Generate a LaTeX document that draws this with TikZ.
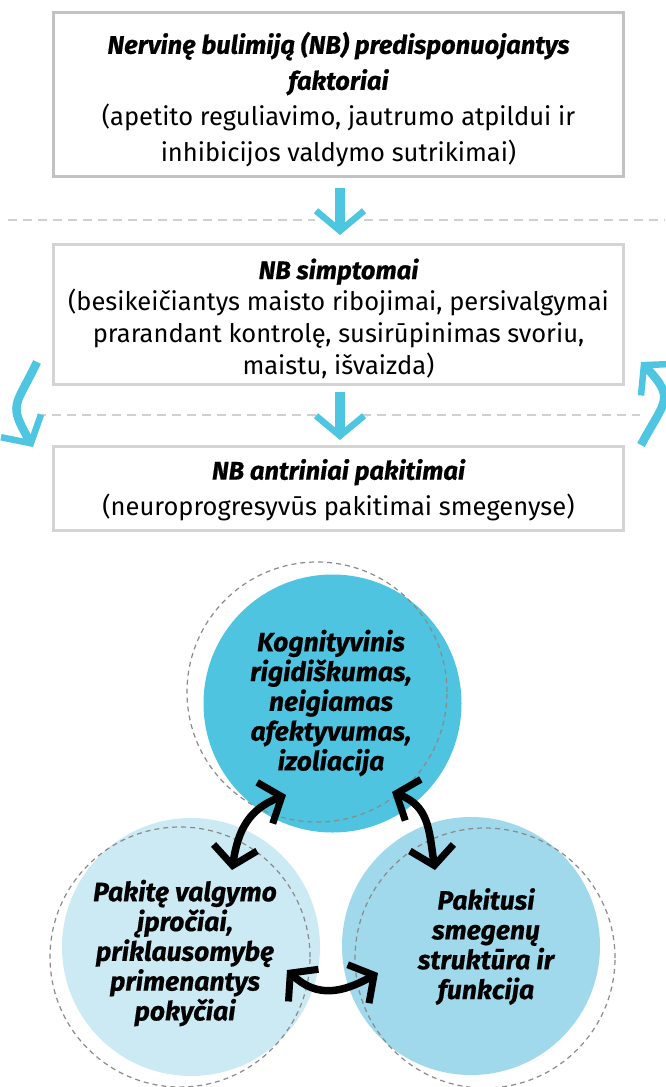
\documentclass[tikz,border=0pt]{standalone}
\usepackage{fontspec}
\setmainfont{Fira Sans}[BoldItalicFeatures={FakeBold=0.6}]
\usetikzlibrary{arrows.meta,calc}
\definecolor{boxgrayA}{HTML}{C2C2C2}
\definecolor{boxgrayB}{HTML}{D4D4D4}
\definecolor{dashgray}{HTML}{D0D0D0}
\definecolor{cyanarr}{HTML}{4EC6E1}
\definecolor{circtop}{HTML}{4EC4E0}
\definecolor{circleft}{HTML}{CCEAF4}
\definecolor{circright}{HTML}{9FD9EB}
\definecolor{circdash}{HTML}{8A8A8A}
\newcommand{\bi}{\bfseries\itshape}
\begin{document}
\begin{tikzpicture}[x=1pt,y=-1pt,
  boxframe/.style={draw=#1, line width=3pt, rectangle, minimum width=570pt, inner sep=0pt},
  boxtext/.style={align=center, inner sep=0pt, font=\fontsize{25.5}{#1}\selectfont},
  circtext/.style={align=center, inner sep=0pt, font=\fontsize{26.5}{29.8}\selectfont\bi},
  dashline/.style={draw=dashgray, line width=2.5pt, dash pattern=on 9pt off 6pt},
  cyanstraight/.style={draw=cyanarr, line width=10pt,
    arrows={-Straight Barb[length=20pt,width=48pt,line width=6.5pt]}},
  cyancurve/.style={draw=cyanarr, line width=8.5pt,
    arrows={-Straight Barb[length=20pt,width=46pt,line width=6.5pt]}},
  blackarr/.style={draw=black, line width=7.5pt,
    arrows={Straight Barb[length=18pt,width=44pt,line width=7pt]-Straight Barb[length=18pt,width=44pt,line width=7pt]}},
  fillcirc/.style={circle, fill=#1, minimum size=258pt, inner sep=0pt},
  dashcirc/.style={circle, draw=circdash, line width=1.2pt, dash pattern=on 5pt off 4pt, minimum size=260pt, inner sep=0pt}
]
\useasboundingbox (0,0) rectangle (665,1087);

% dashed separators
\draw[dashline] (8,220) -- (315,220);
\draw[dashline] (364,220) -- (665,220);
\draw[dashline] (37,415) -- (316,415);
\draw[dashline] (362,415) -- (640,415);

% boxes
\node[boxframe=boxgrayA, minimum height=164pt] (b1) at (338.5,94.5) {};
\node[boxframe=boxgrayB, minimum height=140pt] (b2) at (338.5,314.5) {};
\node[boxframe=boxgrayB, minimum height=84pt] (b3) at (338.5,488.5) {};

\node[boxtext=36] (t1) at (338.5,99.5) {{\bi Nervinę bulimiją (NB) predisponuojantys}\\{\bi faktoriai}\\(apetito reguliavimo, jautrumo atpildui ir\\inhibicijos valdymo sutrikimai)};
\node[boxtext=31.7] (t2) at (338.5,318.5) {{\bi NB simptomai}\\(besikeičiantys maisto ribojimai, persivalgymai\\prarandant kontrolę, susirūpinimas svoriu,\\maistu, išvaizda)};
\node[boxtext=35.5] (t3) at (338.5,489.8) {{\bi NB antriniai pakitimai}\\(neuroprogresyvūs pakitimai smegenyse)};

% cyan arrows
\draw[cyanstraight] ($(b1.south)+(1.5,10)$) -- ($(b2.north)+(1.5,-8)$);
\draw[cyanstraight] ($(b2.south)+(1.5,6)$) -- ($(b3.north)+(1.5,-5)$);
\draw[cyancurve] ([shift={(-15,-24)}]b2.south west) .. controls +(-22,46) and +(-25,-44) .. ([shift={(-19,2)}]b3.north west);
\draw[cyancurve] ([shift={(16,0)}]b3.north east) .. controls +(24,-45) and +(35,37) .. ([shift={(16,-24)}]b2.south east);

% circles
\node[fillcirc=circtop] (ctop) at (332.5,703.5) {};
\node[fillcirc=circleft] (cleft) at (191,947) {};
\node[fillcirc=circright] (cright) at (471,946) {};
\node[dashcirc] (dtop) at (317,692) {};
\node[dashcirc] (dleft) at (180,957) {};
\node[dashcirc] (dright) at (485,958) {};

\node[circtext] (ttop) at (331,703) {Kognityvinis\\rigidiškumas,\\neigiamas\\afektyvumas,\\izoliacija};
\node[circtext] (tleft) at (185,953) {Pakitę valgymo\\įpročiai,\\priklausomybę\\primenantys\\pokyčiai};
\node[circtext] (tright) at (486,946.5) {Pakitusi\\smegenų\\struktūra ir\\funkcija};

% black double arrows
\draw[blackarr] ([shift={(-46.5,91.5)}]ctop.center) .. controls +(-37,14) and +(6,-40) .. ([shift={(41,-77)}]cleft.center);
\draw[blackarr] ([shift={(59.5,88.5)}]ctop.center) .. controls +(37,14) and +(-6,-40) .. ([shift={(-36,-76)}]cright.center);
\draw[blackarr] ([shift={(96,23)}]cleft.center) .. controls +(30,28) and +(-36,20) .. ([shift={(-93,27)}]cright.center);
\end{tikzpicture}
\end{document}
